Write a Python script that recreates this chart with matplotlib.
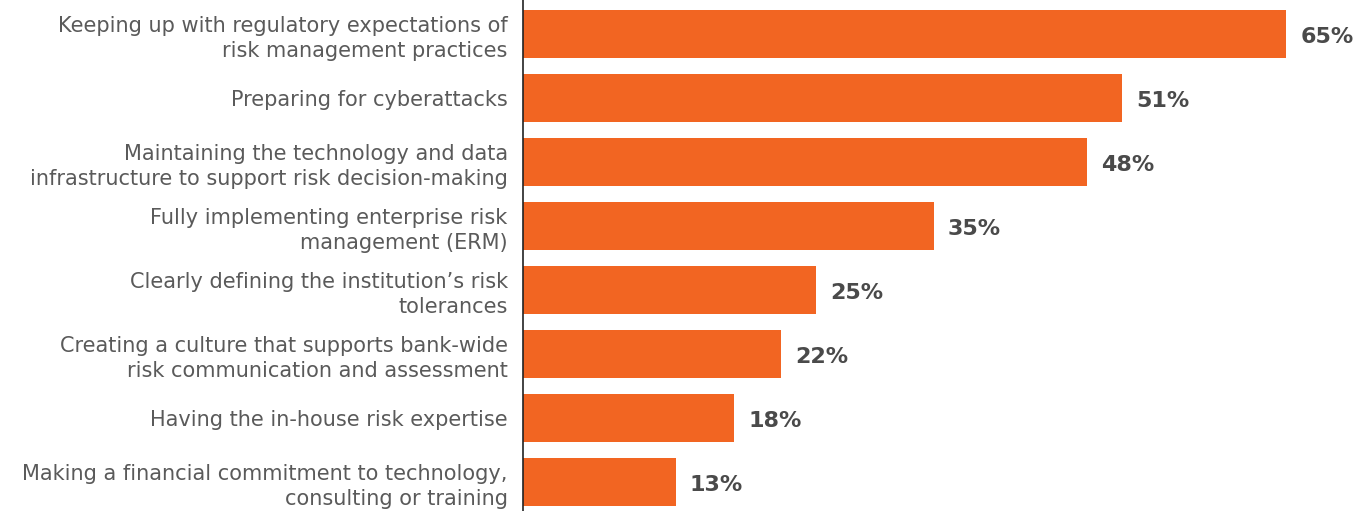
import matplotlib
matplotlib.use("Agg")
import matplotlib.pyplot as plt

categories = [
    "Keeping up with regulatory expectations of\nrisk management practices",
    "Preparing for cyberattacks",
    "Maintaining the technology and data\ninfrastructure to support risk decision-making",
    "Fully implementing enterprise risk\nmanagement (ERM)",
    "Clearly defining the institution\u2019s risk\ntolerances",
    "Creating a culture that supports bank-wide\nrisk communication and assessment",
    "Having the in-house risk expertise",
    "Making a financial commitment to technology,\nconsulting or training",
]
values = [65, 51, 48, 35, 25, 22, 18, 13]

BAR_COLOR = "#F26522"
LABEL_COLOR = "#5a5a5a"
VALUE_COLOR = "#4a4a4a"

fig = plt.figure(figsize=(13.69, 5.11), dpi=100)
ax = fig.add_axes([0.382, 0.0, 0.618, 1.0])

positions = list(range(len(values)))
ax.barh(positions, values, height=0.75, color=BAR_COLOR)
ax.set_ylim(7.45, -0.53)
ax.set_xlim(0, 72.06)

for p, v in zip(positions, values):
    ax.text(v + 1.2, p + 0.04, f"{v}%", va="center", ha="left",
            fontsize=16, fontweight="bold", color=VALUE_COLOR)

ax.set_yticks(positions)
ax.set_yticklabels(categories, fontsize=15, color=LABEL_COLOR,
                   ha="right", multialignment="right", linespacing=1.3)
ax.tick_params(axis="y", length=0, pad=11)
ax.set_xticks([])

for side in ("top", "right", "bottom"):
    ax.spines[side].set_visible(False)
ax.spines["left"].set_color("#222222")
ax.spines["left"].set_linewidth(1.2)

fig.savefig("out.png", dpi=100)
